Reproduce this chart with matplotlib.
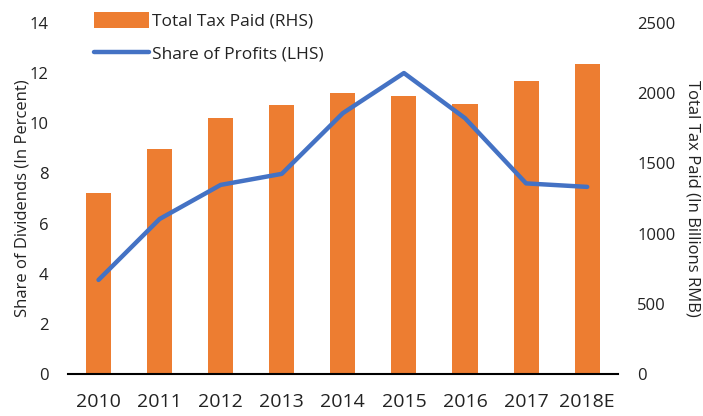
import matplotlib.pyplot as plt
import numpy as np

plt.rcParams['font.family'] = ['Open Sans', 'DejaVu Sans']

years = ["2010", "2011", "2012", "2013", "2014", "2015", "2016", "2017", "2018E"]
tax_paid = [1289, 1603, 1823, 1916, 2001, 1980, 1923, 2087, 2208]
share_profits = [3.75, 6.18, 7.54, 7.98, 10.4, 12.0, 10.2, 7.6, 7.46]

x = np.arange(len(years))

fig = plt.figure(figsize=(7.03, 4.16), dpi=100)
ax = fig.add_axes([0.0967, 0.101, 0.782, 0.844])
ax2 = ax.twinx()

# barres sur l'axe de droite, ligne sur l'axe de gauche
bars = ax2.bar(x, tax_paid, width=0.41, color="#ED7D31", label="Total Tax Paid (RHS)")
ax.set_zorder(ax2.get_zorder() + 1)
ax.patch.set_visible(False)
line, = ax.plot(x, share_profits, color="#4472C4", linewidth=3.2,
                solid_capstyle="round", label="Share of Profits (LHS)")

ax.set_xlim(-0.5, len(years) - 0.5)
ax.set_ylim(0, 14)
ax.set_yticks(range(0, 15, 2))
ax2.set_ylim(0, 2500)
ax2.set_yticks(range(0, 2501, 500))

ax.set_xticks(x)
ax.set_xticklabels(years, fontsize=14, color="#222222")
ax.tick_params(axis="x", length=0, pad=14)
ax.tick_params(axis="y", length=0, labelsize=12, pad=14, labelcolor="#222222")
ax2.tick_params(axis="y", length=0, labelsize=12, pad=14, labelcolor="#222222")

for a in (ax, ax2):
    for s in ("top", "left", "right", "bottom"):
        a.spines[s].set_visible(False)
ax.spines["bottom"].set_visible(True)
ax.spines["bottom"].set_linewidth(1.5)
ax.spines["bottom"].set_color("black")

ax.set_ylabel("Share of Dividends (In Percent)", fontsize=12, color="#222222", labelpad=-1)
ax2.set_ylabel("Total Tax Paid (In Billions RMB)", fontsize=12, color="#222222",
               rotation=270, labelpad=18)

leg = ax.legend([bars, line], ["Total Tax Paid (RHS)", "Share of Profits (LHS)"],
                loc="upper left", bbox_to_anchor=(0.018, 1.075), frameon=False,
                fontsize=12.5, handlelength=3.2, handleheight=1.0, handletextpad=0.15,
                labelspacing=0.85)
for t in leg.get_texts():
    t.set_color("#222222")

fig.savefig("out.png", dpi=100)
